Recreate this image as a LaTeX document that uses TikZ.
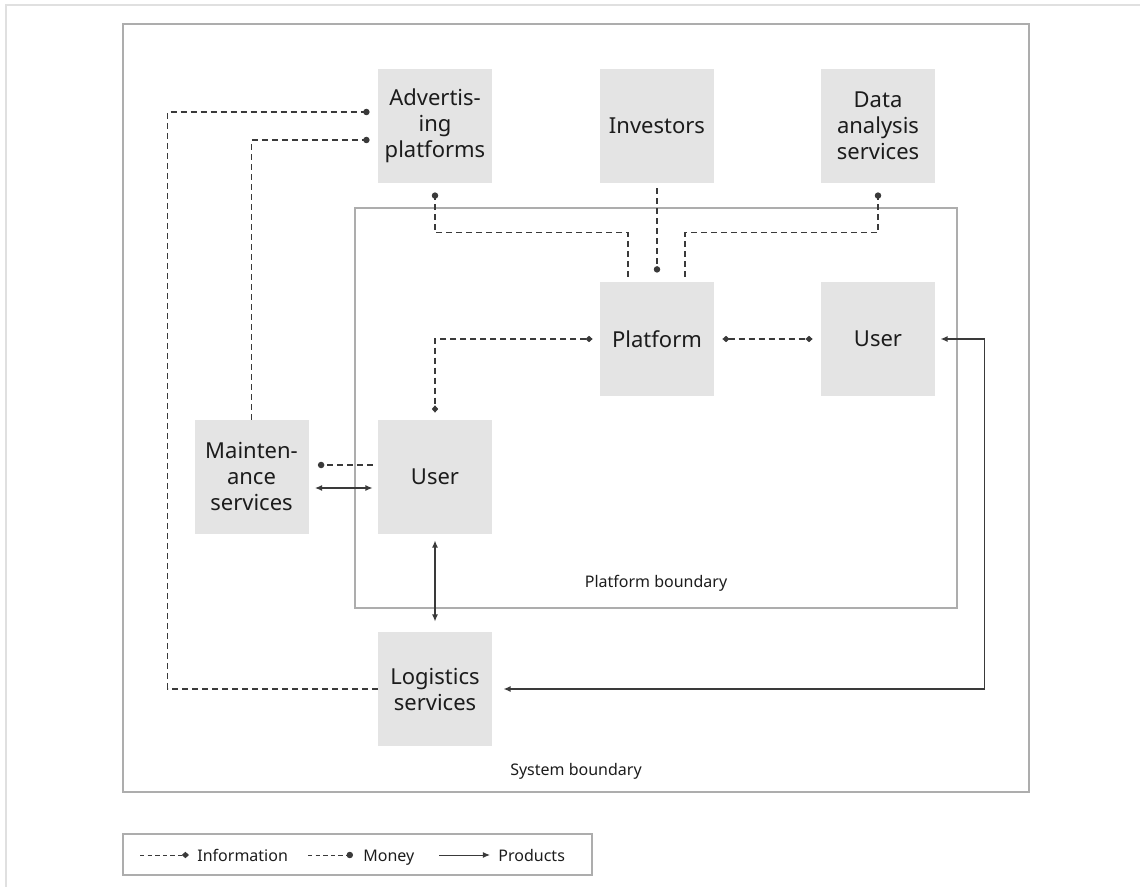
\documentclass[tikz,border=0pt]{standalone}
\usepackage{fontspec}
\setmainfont{Noto Sans}
\usetikzlibrary{arrows.meta,calc}
\definecolor{boxgray}{HTML}{E4E4E4}
\definecolor{framegray}{HTML}{E0E0E0}
\definecolor{edgegray}{HTML}{ADADAD}
\definecolor{linegray}{HTML}{3A3A3A}
\definecolor{inkgray}{HTML}{1C1C1C}

\begin{document}
\begin{tikzpicture}[
  x=0.5pt, y=-0.5pt,
  actor/.style={fill=boxgray, minimum size=57pt, inner sep=0pt, align=center,
    font=\fontsize{11}{13}\selectfont, text=inkgray},
  boundary/.style={draw=edgegray, line width=0.6pt},
  tag/.style={font=\fontsize{8}{10}\selectfont, text=inkgray},
  info/.style={linegray, line width=0.65pt, dash pattern=on 3pt off 2pt,
    {Diamond[length=3.6pt,width=3.2pt]}-{Diamond[length=3.6pt,width=3.2pt]}},
  money/.style={linegray, line width=0.65pt, dash pattern=on 3pt off 2pt,
    -{Circle[length=3.2pt]}},
  goods/.style={linegray, line width=0.65pt,
    {Latex[length=3.6pt,width=3pt]}-{Latex[length=3.6pt,width=3pt]}}
]
\useasboundingbox (0,0) rectangle (1140,887);
\clip (0,0) rectangle (1140,887);
% outer frame
\draw[framegray, line width=1pt] (6,5) rectangle (1200,950);
% boundaries
\draw[boundary] (123,24) rectangle (1029,792);
\draw[boundary] (355,208) rectangle (957,608);
\node[tag] (platlbl) at (656,583) {Platform boundary};
\node[tag] (syslbl) at (576,771) {System boundary};
% actors
\node[actor] (adv) at (435,126) {Advertis-\\ing\\platforms};
\node[actor] (inv) at (657,126) {Investors};
\node[actor] (data) at (878,126) {Data\\analysis\\services};
\node[actor] (plat) at (657,339) {Platform};
\node[actor] (userr) at (878,339) {User};
\node[actor] (userm) at (435,477) {User};
\node[actor] (maint) at (251.5,477) {Mainten-\\ance\\services};
\node[actor] (logi) at (435,689) {Logistics\\services};
% money flows
\draw[money, shorten >=4pt] (logi.west) -- ++(-210,0) |- ($(adv.west)+(0,-14)$);
\draw[money, shorten >=4pt] (maint.north) |- ($(adv.west)+(0,14)$);
\draw[money, shorten <=2.5pt, shorten >=4.5pt] ($(plat.north)+(-29,0)$) -- ++(0,-49) -| (adv.south);
\draw[money, shorten <=2.5pt, shorten >=4.5pt] (inv.south) -- (plat.north);
\draw[money, shorten <=2.5pt, shorten >=4.5pt] ($(plat.north)+(28,0)$) -- ++(0,-49) -| (data.south);
\draw[money, shorten <=2.5pt, shorten >=4.5pt] ($(userm.west)+(0,-12)$) -- ($(maint.east)+(0,-12)$);
% information flows
\draw[info, shorten <=3.5pt, shorten >=3.5pt] (plat.west) -| (userm.north);
\draw[info, shorten <=4pt, shorten >=4pt] (plat.east) -- (userr.west);
% product flows
\draw[goods, shorten <=3pt, shorten >=2.5pt] ($(maint.east)+(0,11)$) -- ($(userm.west)+(0,11)$);
\draw[goods, shorten <=3pt, shorten >=5pt] (userm.south) -- (logi.north);
\draw[goods, line width=0.9pt, shorten <=2.5pt, shorten >=5.5pt] (userr.east) -- ++(49,0) |- (logi.east);
% legend
\draw[boundary] (123,834) rectangle (592,875);
\coordinate (infoa) at (140,855);
\coordinate (infob) at (189,855);
\coordinate (moneya) at (308,855);
\coordinate (moneyb) at (353,855);
\coordinate (goodsa) at (439,855);
\coordinate (goodsb) at (490,855);
\draw[info, {}-{Diamond[length=3.6pt,width=3.2pt]}, line width=0.5pt, dash pattern=on 2.2pt off 1.6pt] (infoa) -- (infob);
\draw[money, line width=0.5pt, dash pattern=on 2.2pt off 1.6pt] (moneya) -- (moneyb);
\draw[goods, {}-{Latex[length=3.6pt,width=3pt]}, line width=0.5pt] (goodsa) -- (goodsb);
\node[tag, anchor=base west, inner sep=0pt] (infotxt) at (197,861) {Information};
\node[tag, anchor=base west, inner sep=0pt] (moneytxt) at (363,861) {Money};
\node[tag, anchor=base west, inner sep=0pt] (goodstxt) at (498,861) {Products};
\end{tikzpicture}
\end{document}
